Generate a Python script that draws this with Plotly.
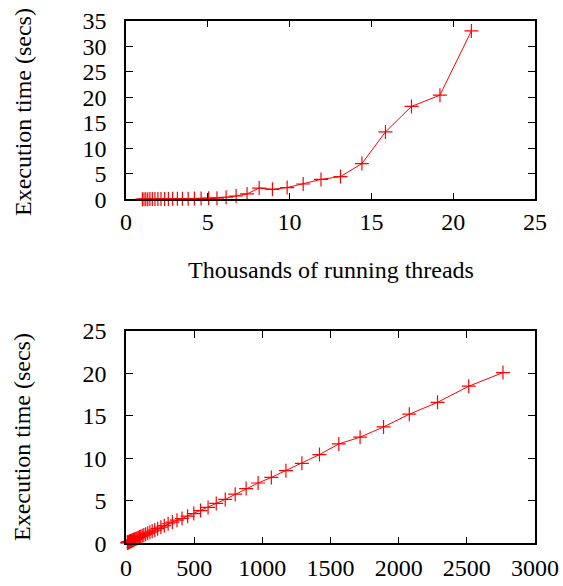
import plotly.graph_objects as go

# Top chart: thousands of running threads vs execution time
top_threads_k = [1.0, 1.1, 1.21, 1.33, 1.46, 1.61, 1.77, 1.95, 2.14, 2.36, 2.59, 2.85,
                 3.14, 3.45, 3.80, 4.18, 4.59, 5.05, 5.56, 6.12, 6.73, 7.40, 8.14, 8.95,
                 9.85, 10.83, 11.92, 13.11, 14.42, 15.86, 17.45, 19.19, 21.11]
top_time = [0.02, 0.02, 0.03, 0.03, 0.04, 0.04, 0.05, 0.05, 0.06, 0.07, 0.08, 0.09,
            0.10, 0.11, 0.13, 0.15, 0.17, 0.20, 0.22, 0.40, 0.65, 1.05, 2.2, 1.95,
            2.3, 3.0, 3.9, 4.45, 7.0, 13.2, 18.2, 20.4, 33.0]

# Bottom chart
bot_x = [10, 11, 12, 13, 15, 16, 18, 19, 21, 24, 26, 29, 31, 35, 38, 42, 46, 51, 56, 61,
         67, 74, 81, 90, 98, 108, 119, 131, 144, 159, 175, 192, 211, 232, 256, 281, 309,
         340, 374, 411, 452, 497, 547, 602, 662, 728, 801, 881, 969, 1066, 1173, 1290,
         1419, 1561, 1717, 1889, 2078, 2285, 2514, 2765]
bot_time = [0.07, 0.08, 0.09, 0.10, 0.11, 0.12, 0.13, 0.14, 0.16, 0.18, 0.19, 0.21, 0.23,
            0.26, 0.28, 0.31, 0.34, 0.38, 0.41, 0.45, 0.50, 0.55, 0.60, 0.66, 0.73, 0.80,
            0.88, 0.97, 1.07, 1.18, 1.30, 1.42, 1.56, 1.72, 1.90, 2.08, 2.30, 2.50, 2.72,
            2.92, 3.20, 3.50, 3.85, 4.22, 4.70, 5.17, 5.78, 6.45, 7.10, 7.76, 8.55, 9.42,
            10.45, 11.70, 12.50, 13.70, 15.20, 16.60, 18.50, 20.10]

y_title = "Execution time (secs)"
x_title_top = "Thousands of running threads"

FONT = "Liberation Serif"
FS = 24
W, H = 563, 586

fig = go.Figure()
style = dict(mode="lines+markers",
             line=dict(color="#ff0000", width=1),
             marker=dict(symbol="cross-thin", size=10, line=dict(color="#ff0000", width=1.2)),
             showlegend=False, cliponaxis=False)
fig.add_trace(go.Scatter(x=top_threads_k, y=top_time, xaxis="x", yaxis="y", **style))
fig.add_trace(go.Scatter(x=bot_x, y=bot_time, xaxis="x2", yaxis="y2", **style))

def px_x(p):
    return p / W

def px_y(p):
    return 1 - p / H

axis_common = dict(showline=True, linecolor="black", linewidth=1.5, mirror="ticks",
                   ticks="inside", ticklen=7, tickwidth=1.2, tickcolor="black",
                   showgrid=False, zeroline=False, automargin=False,
                   tickfont=dict(family=FONT, size=FS, color="black"))

fig.update_layout(
    width=W, height=H,
    margin=dict(l=0, r=0, t=0, b=0, pad=0, autoexpand=False),
    paper_bgcolor="white", plot_bgcolor="white",
    font=dict(family=FONT, size=FS, color="black"),
    xaxis=dict(domain=[px_x(126), px_x(535)], range=[0, 25], dtick=5, anchor="y",
               ticklabelstandoff=0, **axis_common),
    yaxis=dict(domain=[px_y(199.3), px_y(20.7)], range=[0, 35], dtick=5, anchor="x",
               ticklabelstandoff=13, **axis_common),
    xaxis2=dict(domain=[px_x(126), px_x(535)], range=[0, 3000], dtick=500, anchor="y2",
                ticklabelstandoff=2, **axis_common),
    yaxis2=dict(domain=[px_y(543.3), px_y(331)], range=[0, 25], dtick=5, anchor="x2",
                ticklabelstandoff=13, **axis_common),
    annotations=[
        dict(text=y_title, textangle=-90, xref="paper", yref="paper",
             x=px_x(23), y=px_y(112), showarrow=False,
             font=dict(family=FONT, size=FS), xanchor="center", yanchor="middle"),
        dict(text=y_title, textangle=-90, xref="paper", yref="paper",
             x=px_x(22), y=px_y(437), showarrow=False,
             font=dict(family=FONT, size=FS), xanchor="center", yanchor="middle"),
        dict(text=x_title_top, xref="paper", yref="paper",
             x=px_x(331), y=px_y(270), showarrow=False,
             font=dict(family=FONT, size=FS), xanchor="center", yanchor="middle"),
    ],
)

fig.write_html("out.html",
               config={"displayModeBar": False},
               post_script="document.body.style.margin='0px';document.body.style.overflow='hidden';")
